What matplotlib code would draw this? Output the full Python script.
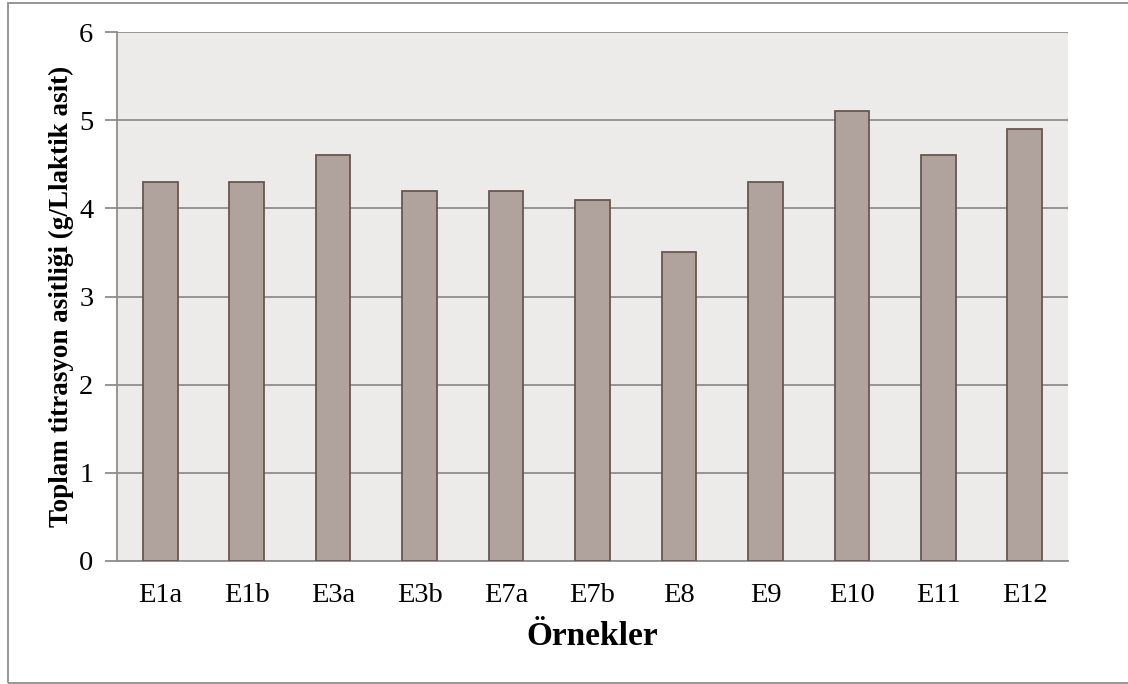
import matplotlib.pyplot as plt
from matplotlib.patches import Rectangle

samples = ["E1a", "E1b", "E3a", "E3b", "E7a", "E7b", "E8", "E9", "E10", "E11", "E12"]
acidity = [4.3, 4.3, 4.6, 4.2, 4.2, 4.1, 3.5, 4.3, 5.1, 4.6, 4.9]

plt.rcParams['font.family'] = ['Liberation Serif', 'DejaVu Serif']

fig = plt.figure(figsize=(11.28, 6.84), dpi=100)
ax = fig.add_axes([117 / 1128, 1 - 561 / 684, (1068 - 117) / 1128, (561 - 32) / 684])

ax.set_facecolor("#ecebe9")
ax.bar(range(len(samples)), acidity, width=0.4, color="#b0a29d",
       edgecolor="#6b5650", linewidth=1.3, zorder=3)

ax.set_xlim(-0.5, len(samples) - 0.5)
ax.set_ylim(0, 6)
ax.set_yticks(range(7))
ax.set_xticks(range(len(samples)))
ax.set_xticklabels(samples)
ax.grid(axis="y", color="#8e8e8e", linewidth=1.3, zorder=1)

for side in ["top", "right"]:
    ax.spines[side].set_visible(False)
for side in ["left", "bottom"]:
    ax.spines[side].set_color("#8e8e8e")
    ax.spines[side].set_linewidth(1.3)

ax.tick_params(axis="y", length=9, width=1.3, color="#8e8e8e", labelsize=20.5, pad=8)
ax.tick_params(axis="x", length=0, labelsize=20.5, pad=16)

ax.set_ylabel("Toplam titrasyon asitliği (g/Llaktik asit)", fontsize=19.5, fontweight="bold", labelpad=4)
ax.set_xlabel("Örnekler", fontsize=24, fontweight="bold", labelpad=9)

fig.patches.append(Rectangle((8 / 1128, 1 / 684), 1.0, 1 - 4 / 684,
                             transform=fig.transFigure, fill=False,
                             edgecolor="#8e8e8e", linewidth=1.3))

fig.savefig("out.png", dpi=100)
